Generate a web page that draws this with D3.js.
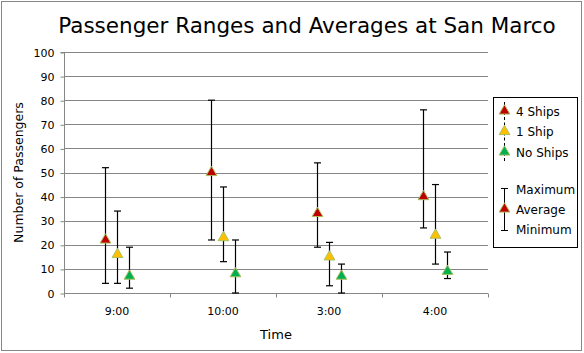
<!DOCTYPE html>
<html>
<head>
<meta charset="utf-8">
<script src="https://cdn.jsdelivr.net/npm/d3@7"></script>
<style>
  body { margin: 0; background: #fff; }
  text { font-family: "DejaVu Sans", Verdana, sans-serif; fill: #000; }
</style>
</head>
<body>
<svg id="chart" width="584" height="353"></svg>
<script>
const times = ['9:00', '10:00', '3:00', '4:00'];
const seriesNames = ['4 Ships', '1 Ship', 'No Ships'];
const seriesColors = ['#c00000', '#ffc000', '#00b050'];

// per series, per time
const avgValues = [
    [22, 50, 33, 40],
    [16, 23, 15, 24],
    [7, 8, 7, 9]
];
const maxValues = [
    [52, 80, 54, 76],
    [34, 44, 21, 45],
    [19, 22, 12, 17]
];
const minValues = [
    [4, 22, 19, 27],
    [4, 13, 3, 12],
    [2, 0, 0, 6]
];
const yTicks = d3.range(0, 101, 10);

const svg = d3.select('#chart');
const plot = { left: 64, right: 488, top: 52, bottom: 293 };

// outer border
svg.append('rect')
    .attr('x', 1.5).attr('y', 1.5)
    .attr('width', 580).attr('height', 349)
    .attr('fill', 'none')
    .attr('stroke', '#868686');

const x = d3.scaleBand().domain(times).range([plot.left, plot.right]);
const offset = d3.scalePoint().domain(seriesNames).range([-12, 12]);
const y = d3.scaleLinear().domain([0, 100]).range([plot.bottom, plot.top]);

// gridlines
svg.append('g')
    .selectAll('line')
    .data(yTicks.filter(d => d > 0))
    .enter()
    .append('line')
    .attr('x1', plot.left).attr('x2', plot.right)
    .attr('y1', d => Math.round(y(d)) + 0.5)
    .attr('y2', d => Math.round(y(d)) + 0.5)
    .attr('stroke', '#868686');

// y axis
const yAxis = svg.append('g')
    .attr('transform', `translate(${plot.left + 0.5}, 0.5)`)
    .call(d3.axisLeft(y).tickValues(yTicks).tickSize(4).tickPadding(6));
yAxis.selectAll('line, path').attr('stroke', '#868686');
yAxis.selectAll('text').attr('font-size', 11).style('font-family', '"DejaVu Sans", Verdana, sans-serif');
yAxis.select('path').attr('d', `M-4,${y(100)}H0V${y(0)}`);

// x axis
const xAxis = svg.append('g')
    .attr('transform', `translate(0, ${Math.round(plot.bottom) + 0.5})`)
    .call(d3.axisBottom(x).tickSize(0).tickPadding(14));
xAxis.selectAll('text').attr('font-size', 11).style('font-family', '"DejaVu Sans", Verdana, sans-serif');
xAxis.select('path').attr('stroke', '#868686').attr('d', `M${plot.left},0H${plot.right}`);
xAxis.append('g')
    .selectAll('line')
    .data(d3.range(times.length + 1))
    .enter()
    .append('line')
    .attr('x1', i => Math.round(plot.left + i * x.step()) + 0.5)
    .attr('x2', i => Math.round(plot.left + i * x.step()) + 0.5)
    .attr('y1', 0).attr('y2', 4)
    .attr('stroke', '#868686');

// titles
const title = svg.append('text')
    .attr('x', 307).attr('y', 33)
    .attr('text-anchor', 'middle')
    .attr('font-size', 22)
    .text('Passenger Ranges and Averages at San Marco');
const tw = title.node().getComputedTextLength();
title.attr('font-size', 22 * 498 / tw);

svg.append('text')
    .attr('x', (plot.left + plot.right) / 2).attr('y', 339)
    .attr('text-anchor', 'middle')
    .attr('font-size', 13)
    .text('Time');

svg.append('text')
    .attr('transform', `translate(23, ${(plot.top + plot.bottom) / 2}) rotate(-90)`)
    .attr('text-anchor', 'middle')
    .attr('font-size', 12.5)
    .text('Number of Passengers');

const tri = d3.symbol().type(d3.symbolTriangle).size(50);

// data points
const points = [];
seriesNames.forEach((s, si) => {
    times.forEach((t, ti) => {
        points.push({
            series: s, color: seriesColors[si],
            cx: x(t) + x.bandwidth() / 2 + offset(s),
            avg: avgValues[si][ti], max: maxValues[si][ti], min: minValues[si][ti]
        });
    });
});

const bars = svg.append('g').attr('stroke', '#000').attr('stroke-width', 1.2);
points.forEach(p => {
    const cx = Math.round(p.cx) + 0.5;
    bars.append('line').attr('x1', cx).attr('x2', cx).attr('y1', y(p.max)).attr('y2', y(p.min));
    bars.append('line').attr('x1', cx - 3.5).attr('x2', cx + 3.5).attr('y1', y(p.max)).attr('y2', y(p.max));
    bars.append('line').attr('x1', cx - 3.5).attr('x2', cx + 3.5).attr('y1', y(p.min)).attr('y2', y(p.min));
});

svg.append('g')
    .selectAll('path')
    .data(points)
    .enter()
    .append('path')
    .attr('d', tri)
    .attr('transform', d => `translate(${Math.round(d.cx) + 0.5}, ${y(d.avg)})`)
    .attr('fill', d => d.color)
    .attr('stroke', '#a8c060')
    .attr('stroke-width', 1);

// legend
const legend = svg.append('g');
legend.append('rect')
    .attr('x', 493.5).attr('y', 97.5)
    .attr('width', 84).attr('height', 150)
    .attr('fill', '#fff').attr('stroke', '#000');

const legItems = legend.selectAll('g.item')
    .data(seriesNames)
    .enter()
    .append('g')
    .attr('transform', (d, i) => `translate(504, ${111 + i * 20.5})`);
legItems.append('line')
    .attr('x1', 0.5).attr('x2', 0.5).attr('y1', -9).attr('y2', 9)
    .attr('stroke', '#000').attr('stroke-dasharray', '3,2');
legItems.append('path')
    .attr('d', tri)
    .attr('transform', 'translate(0.5, 0)')
    .attr('fill', (d, i) => seriesColors[i])
    .attr('stroke', '#a8c060');
legItems.append('text')
    .attr('x', 12).attr('y', 4.5)
    .attr('font-size', 12)
    .text(d => d);

const key = legend.append('g').attr('transform', 'translate(504, 0)');
key.append('line').attr('x1', 0.5).attr('x2', 0.5).attr('y1', 188).attr('y2', 231).attr('stroke', '#000');
key.append('line').attr('x1', -3).attr('x2', 4).attr('y1', 188.5).attr('y2', 188.5).attr('stroke', '#000');
key.append('line').attr('x1', -3).attr('x2', 4).attr('y1', 230.5).attr('y2', 230.5).attr('stroke', '#000');
key.append('path').attr('d', tri).attr('transform', 'translate(0.5, 209)')
    .attr('fill', seriesColors[0]).attr('stroke', '#a8c060');
key.selectAll('text')
    .data(['Maximum', 'Average', 'Minimum'])
    .enter()
    .append('text')
    .attr('x', 12)
    .attr('y', (d, i) => 194 + i * 20)
    .attr('font-size', 12)
    .text(d => d);
</script>
</body>
</html>
